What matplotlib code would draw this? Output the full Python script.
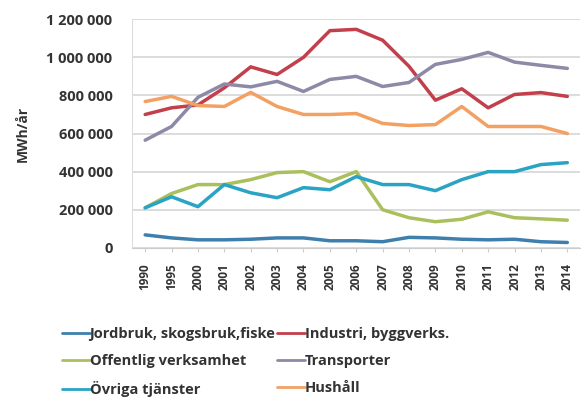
import matplotlib
matplotlib.use("Agg")
import matplotlib.pyplot as plt
from matplotlib.ticker import FuncFormatter

years = ['1990', '1995', '2000', '2001', '2002', '2003', '2004', '2005', '2006',
         '2007', '2008', '2009', '2010', '2011', '2012', '2013', '2014']

jordbruk = [68, 52, 42, 42, 45, 52, 52, 37, 37, 32, 55, 52, 45, 42, 45, 32, 28]
industri = [700, 735, 750, 840, 950, 910, 1000, 1140, 1147, 1090, 953, 775, 835, 735, 805, 815, 795]
offentlig = [210, 285, 332, 332, 358, 395, 400, 347, 400, 200, 158, 137, 150, 189, 158, 152, 145]
transporter = [565, 637, 790, 860, 845, 874, 821, 884, 900, 847, 868, 963, 989, 1026, 975, 958, 942]
ovriga = [210, 268, 216, 332, 289, 263, 316, 305, 374, 332, 332, 300, 358, 400, 400, 437, 447]
hushall = [768, 795, 747, 742, 816, 742, 700, 700, 705, 653, 642, 647, 742, 637, 637, 637, 600]

plt.rcParams['font.family'] = ['Open Sans', 'DejaVu Sans']

fig = plt.figure(figsize=(5.84, 4.01), dpi=100)
ax = fig.add_axes([0.226, 0.382, 0.768, 0.57])

x = range(len(years))
series = [
    ('Jordbruk, skogsbruk,fiske', jordbruk, '#3f7fae'),
    ('Industri, byggverks.', industri, '#c2404c'),
    ('Offentlig verksamhet', offentlig, '#a9c05c'),
    ('Transporter', transporter, '#8c8aa6'),
    ('Övriga tjänster', ovriga, '#2aa3c4'),
    ('Hushåll', hushall, '#f3a063'),
]
lines = {}
for name, vals, col in series:
    l, = ax.plot(x, [v * 1000 for v in vals], color=col, linewidth=2.5,
                 solid_capstyle='round', label=name)
    lines[name] = l

ax.set_xlim(-0.5, len(years) - 0.5)
ax.set_ylim(0, 1200000)
ax.set_yticks(range(0, 1200001, 200000))
ax.yaxis.set_major_formatter(FuncFormatter(lambda v, p: f'{int(v):,}'.replace(',', ' ')))
ax.set_xticks(list(x))
ax.set_xticklabels(years, rotation=90, fontweight='bold', fontsize=8.5, color='#333333')
for t in ax.get_yticklabels():
    t.set_fontweight('bold')
    t.set_fontsize(10.5)
    t.set_color('#333333')
ax.tick_params(axis='y', length=0, pad=14)
ax.tick_params(axis='x', length=3, color='#cccccc', pad=8)
ax.grid(axis='y', color='#d6d6d6', linewidth=1.2)
ax.set_axisbelow(True)
for s in ['top', 'right']:
    ax.spines[s].set_visible(False)
ax.spines['left'].set_color('#dddddd')
ax.spines['bottom'].set_color('#cccccc')
ax.set_ylabel('MWh/år', fontweight='bold', fontsize=10, color='#333333', labelpad=12)

# legend is filled column by column, so reorder to get the reference rows
order = ['Jordbruk, skogsbruk,fiske', 'Offentlig verksamhet', 'Övriga tjänster',
         'Industri, byggverks.', 'Transporter', 'Hushåll']
leg = fig.legend([lines[n] for n in order], order, ncol=2, loc='upper left',
                 bbox_to_anchor=(0.106, 0.185), frameon=False, handlelength=1.9,
                 handletextpad=0.0, columnspacing=0.1, labelspacing=0.9,
                 borderpad=0, borderaxespad=0,
                 prop={'weight': 'bold', 'size': 10.5})
for t in leg.get_texts():
    t.set_color('#333333')
for h in leg.legend_handles:
    h.set_linewidth(2)

fig.savefig('out.png', dpi=100)
